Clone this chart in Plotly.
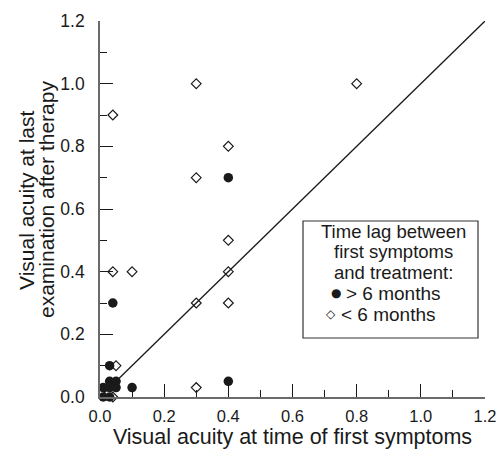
import plotly.graph_objects as go

# ---- data ----
# > 6 months between first symptoms and treatment (filled circles)
late_x = [0.40, 0.04, 0.40, 0.10, 0.03, 0.03, 0.05, 0.01, 0.03, 0.05, 0.01, 0.03]
late_y = [0.70, 0.30, 0.05, 0.03, 0.10, 0.05, 0.05, 0.03, 0.03, 0.03, 0.00, 0.00]
# < 6 months (open diamonds)
early_x = [0.30, 0.80, 0.04, 0.30, 0.40, 0.40, 0.40, 0.40, 0.30, 0.04, 0.10, 0.05, 0.30, 0.04]
early_y = [1.00, 1.00, 0.90, 0.70, 0.80, 0.50, 0.40, 0.30, 0.30, 0.40, 0.40, 0.10, 0.03, 0.00]
# line of identity
ident_x = [0.0, 1.2]
ident_y = [0.0, 1.2]
tick_vals = [0.0, 0.2, 0.4, 0.6, 0.8, 1.0, 1.2]
tick_text = ["0.0", "0.2", "0.4", "0.6", "0.8", "1.0", "1.2"]

x_title = "Visual acuity at time of first symptoms"
y_title_lines = ["Visual acuity at last", "examination after therapy"]
legend_title_lines = ["Time lag between", "first symptoms", "and treatment:"]
legend_items = ["> 6 months", "< 6 months"]

# ---- layout helpers ----
W, H = 499, 449
L, R, T, B = 100, 14, 21, 52
PW, PH = W - L - R, H - T - B
FONT = "Liberation Sans, Arial, sans-serif"
INK = "#1a1a1a"


def px(x):
    return (x - L) / PW


def py(y):
    return (H - B - y) / PH


fig = go.Figure()
fig.add_trace(go.Scatter(x=ident_x, y=ident_y, mode="lines",
                         line=dict(color=INK, width=1.3), showlegend=False,
                         hoverinfo="skip"))
fig.add_trace(go.Scatter(x=late_x, y=late_y, mode="markers", name="> 6 months",
                         marker=dict(symbol="circle", size=9.5, color=INK,
                                     line=dict(width=0)),
                         cliponaxis=False))
fig.add_trace(go.Scatter(x=early_x, y=early_y, mode="markers", name="< 6 months",
                         marker=dict(symbol="diamond-open", size=7.5, color=INK,
                                     line=dict(width=1.2, color=INK)),
                         cliponaxis=False))

axis_common = dict(
    range=[0, 1.2], tickvals=tick_vals, ticktext=tick_text,
    ticks="inside", ticklen=13, tickwidth=1.3, tickcolor=INK,
    showline=True, linecolor="#6a6a6a", linewidth=1.6,
    showgrid=False, zeroline=False, mirror=False, automargin=False,
    minor=dict(dtick=0.1, ticks="inside", ticklen=7, tickwidth=1.2, tickcolor=INK,
               showgrid=False),
)

fig.update_xaxes(**axis_common, ticklabelstandoff=3,
                 tickfont=dict(family=FONT, size=16.5, color=INK),
                 title=dict(text=x_title, font=dict(family=FONT, size=21.5, color=INK),
                            standoff=11))
fig.update_yaxes(**axis_common, ticklabelstandoff=10,
                 tickfont=dict(family=FONT, size=17.5, color=INK))

annotations = []
# y axis title (two lines)
for txt, cx in zip(y_title_lines, [26, 46]):
    annotations.append(dict(text=txt, x=px(cx), y=py(200), xref="paper", yref="paper",
                            xanchor="center", yanchor="middle", textangle=-90,
                            showarrow=False,
                            font=dict(family=FONT, size=21, color=INK)))
# legend box text
for txt, cy in zip(legend_title_lines, [231, 251.5, 272]):
    annotations.append(dict(text=txt, x=px(393), y=py(cy), xref="paper", yref="paper",
                            xanchor="center", yanchor="middle", showarrow=False,
                            font=dict(family=FONT, size=18.5, color=INK)))
for sym, sx, txt, tx, cy in [("●", 336, legend_items[0], 344, 293),
                             ("◇", 331, legend_items[1], 339, 314)]:
    annotations.append(dict(text=sym, x=px(sx), y=py(cy), xref="paper", yref="paper",
                            xanchor="center", yanchor="middle", showarrow=False,
                            font=dict(family="DejaVu Sans", size=12, color=INK)))
    annotations.append(dict(text=txt, x=px(tx), y=py(cy), xref="paper", yref="paper",
                            xanchor="left", yanchor="middle", showarrow=False,
                            font=dict(family=FONT, size=19, color=INK)))

fig.update_layout(
    width=W, height=H,
    margin=dict(l=L, r=R, t=T, b=B),
    paper_bgcolor="white", plot_bgcolor="white",
    showlegend=False,
    annotations=annotations,
    shapes=[dict(type="rect", xref="paper", yref="paper",
                 x0=px(303), x1=px(478), y0=py(338), y1=py(221),
                 line=dict(color="#333333", width=1.2), fillcolor="white",
                 layer="above")],
)

fig.write_html("out.html", config={"displayModeBar": False},
               post_script="document.body.style.margin='0';")
